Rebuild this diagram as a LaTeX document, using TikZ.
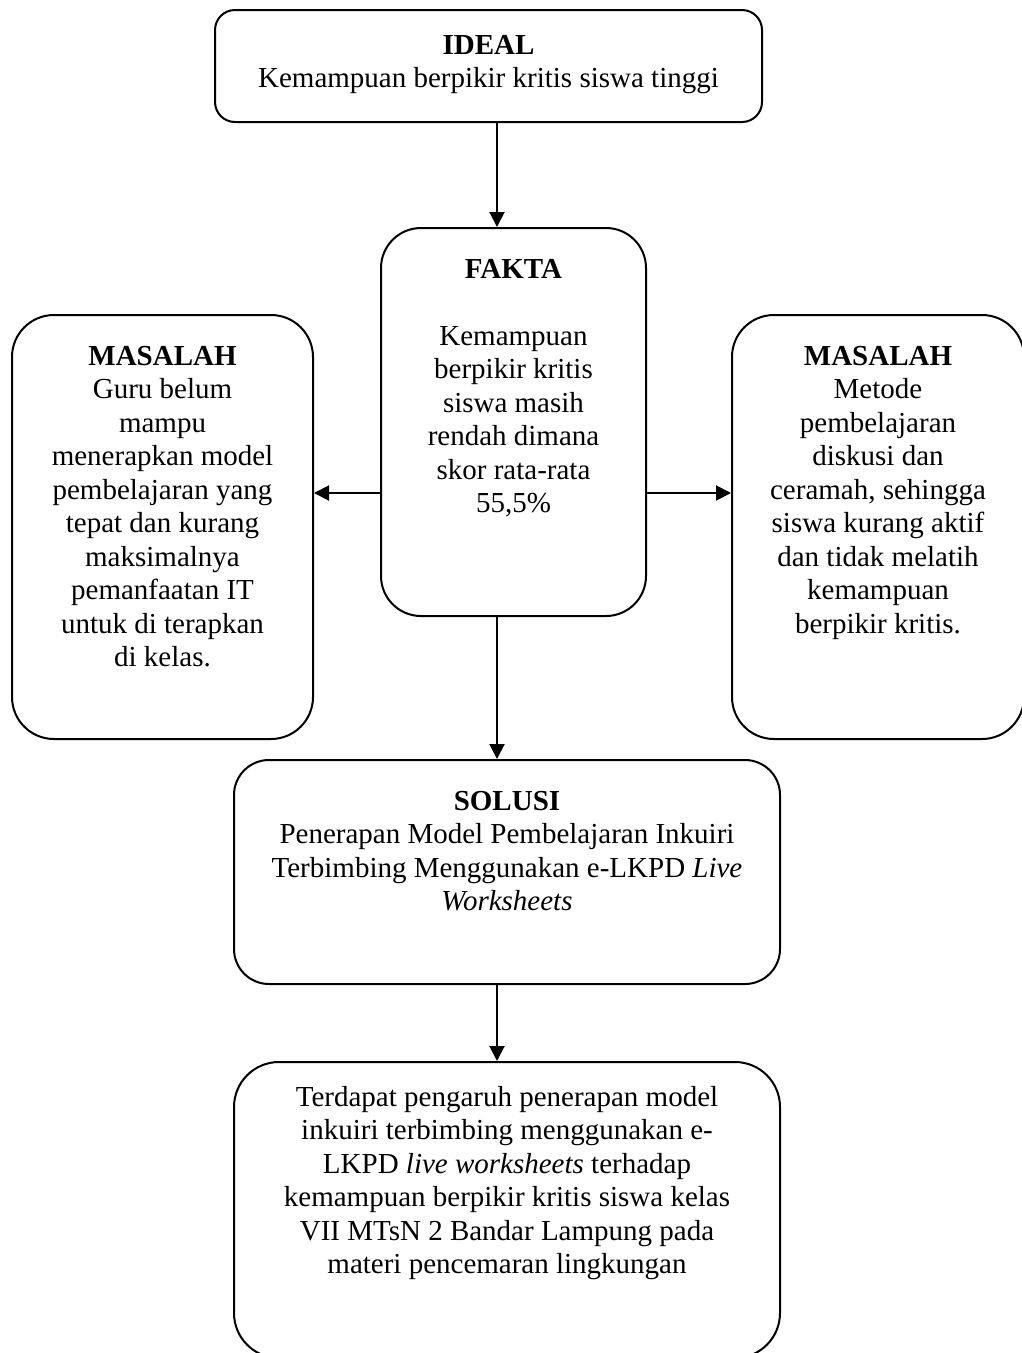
\documentclass[tikz,border=0pt]{standalone}
\usepackage{fontspec}
\setmainfont{Liberation Serif}
\usetikzlibrary{arrows.meta}
\newcommand\firstln{\rule{0pt}{24pt}}
\begin{document}
\begin{tikzpicture}[x=1pt,y=-1pt,
  box/.style={draw, line width=2pt, inner sep=0pt},
  txt/.style={anchor=north, inner sep=0pt, align=center, font=\fontsize{29}{33.5}\selectfont},
  arr/.style={line width=2pt, -{Triangle[length=15pt,width=15pt]}}]
\useasboundingbox (0,0) rectangle (1022,1353);
\clip (0,0) rectangle (1022,1353);
\fill[white] (0,0) rectangle (1022,1353);
% boxes
\node[box, rounded corners=20pt, minimum width=547pt, minimum height=112pt] (ideal) at (488.5,66) {};
\node[box, rounded corners=40pt, minimum width=265pt, minimum height=388pt] (fakta) at (513.5,422) {};
\node[box, rounded corners=42pt, minimum width=301pt, minimum height=424pt] (masL) at (162.5,527) {};
\node[box, rounded corners=42pt, minimum width=292pt, minimum height=424pt] (masR) at (878,527) {};
\node[box, rounded corners=35pt, minimum width=546pt, minimum height=224pt] (solusi) at (507,872) {};
\node[box, rounded corners=45pt, minimum width=546pt, minimum height=296pt] (hasil) at (507,1210) {};
% texts
\node[txt] (idealT) at (488.5,30) {\firstln\textbf{IDEAL}\\Kemampuan berpikir kritis siswa tinggi};
\node[txt] (faktaT) at (513.5,254) {\firstln\textbf{FAKTA}\\[33.5pt]Kemampuan\\berpikir kritis\\siswa masih\\rendah dimana\\skor rata-rata\\55,5\%};
\node[txt] (masLT) at (162.5,341) {\firstln\textbf{MASALAH}\\Guru belum\\mampu\\menerapkan model\\pembelajaran yang\\tepat dan kurang\\maksimalnya\\pemanfaatan IT\\untuk di terapkan\\di kelas.};
\node[txt] (masRT) at (878,341) {\firstln\textbf{MASALAH}\\Metode\\pembelajaran\\diskusi dan\\ceramah, sehingga\\siswa kurang aktif\\dan tidak melatih\\kemampuan\\berpikir kritis.};
\node[txt] (solusiT) at (507,786) {\firstln\textbf{SOLUSI}\\Penerapan Model Pembelajaran Inkuiri\\Terbimbing Menggunakan e-LKPD \textit{Live}\\\textit{Worksheets}};
\node[txt] (hasilT) at (507,1082) {\firstln Terdapat pengaruh penerapan model\\inkuiri terbimbing menggunakan e-\\LKPD \textit{live worksheets} terhadap\\kemampuan berpikir kritis siswa kelas\\VII MTsN 2 Bandar Lampung pada\\materi pencemaran lingkungan};
% connectors
\coordinate (ax) at (497,0);
\coordinate (ay) at (0,493);
\draw[arr] (ideal.south -| ax) -- (fakta.north -| ax);
\draw[arr] (fakta.west |- ay) -- (masL.east |- ay);
\draw[arr] (fakta.east |- ay) -- (masR.west |- ay);
\draw[arr] (fakta.south -| ax) -- (solusi.north -| ax);
\draw[arr] (solusi.south -| ax) -- (hasil.north -| ax);
\end{tikzpicture}
\end{document}
